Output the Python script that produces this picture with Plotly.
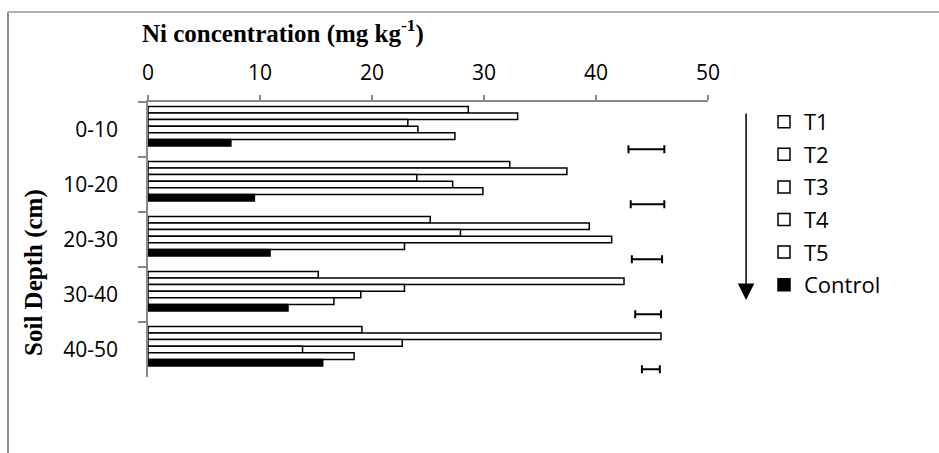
import plotly.graph_objects as go

# ---- data ----
depths = ["0-10", "10-20", "20-30", "30-40", "40-50"]
t1 = [28.6, 32.3, 25.2, 15.2, 19.1]
t2 = [33.0, 37.4, 39.4, 42.5, 45.8]
t3 = [23.2, 24.0, 27.9, 22.9, 22.7]
t4 = [24.1, 27.2, 41.4, 19.0, 13.8]
t5 = [27.4, 29.9, 22.9, 16.6, 18.4]
control = [7.4, 9.5, 10.9, 12.5, 15.6]
lsd_center = [44.5, 44.6, 44.55, 44.65, 44.9]
lsd_half = [1.6, 1.5, 1.35, 1.15, 0.8]
series_names = ["T1", "T2", "T3", "T4", "T5", "Control"]
x_ticks = [0, 10, 20, 30, 40, 50]

SANS = "Open Sans"
SERIF = "Liberation Serif"

fig = go.Figure()
for name, vals in zip(series_names, [t1, t2, t3, t4, t5, control]):
    fill = "black" if name == "Control" else "white"
    fig.add_trace(go.Bar(
        y=depths, x=vals, name=name, orientation="h",
        marker=dict(color=fill, line=dict(color="black", width=1.5)),
        legendgroup=name,
    ))

# invisible 7th series carrying the error bars
fig.add_trace(go.Bar(
    y=depths, x=lsd_center, name="err", orientation="h", showlegend=False,
    marker=dict(color="rgba(0,0,0,0)", line=dict(width=0)),
    error_x=dict(type="data", array=lsd_half, visible=True, color="black",
                 thickness=2, width=4),
))

fig.update_layout(
    width=939, height=453,
    margin=dict(l=148, r=231, t=102, b=76),
    paper_bgcolor="white", plot_bgcolor="white",
    barmode="group", bargap=0.16, bargroupgap=0,
    font=dict(family=SANS, size=19, color="black"),
    xaxis=dict(
        side="top", range=[0, 50], tickvals=x_ticks,
        ticks="outside", ticklen=5, tickcolor="#888", tickwidth=1.5,
        showline=True, linecolor="#888", linewidth=1.5,
        showgrid=False, zeroline=False,
        tickfont=dict(family=SANS, size=21, color="black"),
        ticklabelstandoff=7,
    ),
    yaxis=dict(
        type="category", autorange="reversed", tickson="boundaries",
        ticks="outside", ticklen=8, tickcolor="#888", tickwidth=1.5,
        showline=True, linecolor="#888", linewidth=1.5,
        showgrid=False, zeroline=False,
        tickfont=dict(family=SANS, size=21, color="black"),
        ticklabelstandoff=24,
    ),
    legend=dict(
        x=1.1, y=1.004, xanchor="left", yanchor="top",
        font=dict(family=SANS, size=22, color="black"),
        traceorder="grouped", tracegroupgap=1,
        itemwidth=30, bgcolor="rgba(0,0,0,0)",
    ),
    annotations=[
        dict(text="<b>Ni concentration (mg kg<sup>-1</sup>)</b>", xref="paper", yref="paper",
             x=-0.0143, y=1.255, xanchor="left", yanchor="middle", showarrow=False,
             font=dict(family=SERIF, size=25, color="black")),
        dict(text="<b>Soil Depth (cm)</b>", xref="paper", yref="paper",
             x=-0.2036, y=0.382, xanchor="center", yanchor="middle", textangle=-90,
             showarrow=False, font=dict(family=SERIF, size=25, color="black")),
        dict(text="", xref="paper", yref="paper", x=1.068, y=0.28,
             ax=0, ay=-188, showarrow=True, arrowhead=2, arrowsize=2.2,
             arrowwidth=1.5, arrowcolor="black", standoff=0),
    ],
    shapes=[
        dict(type="line", xref="paper", yref="paper", x0=-0.25, x1=-0.25,
             y0=-0.3, y1=1.327, line=dict(color="#8c8c8c", width=2)),
        dict(type="line", xref="paper", yref="paper", x0=-0.25, x1=1.45,
             y0=1.327, y1=1.327, line=dict(color="#b0b0b0", width=2)),
    ],
)

fig.write_html("out.html", config={"displayModeBar": False},
               post_script="document.body.style.margin='0';")
